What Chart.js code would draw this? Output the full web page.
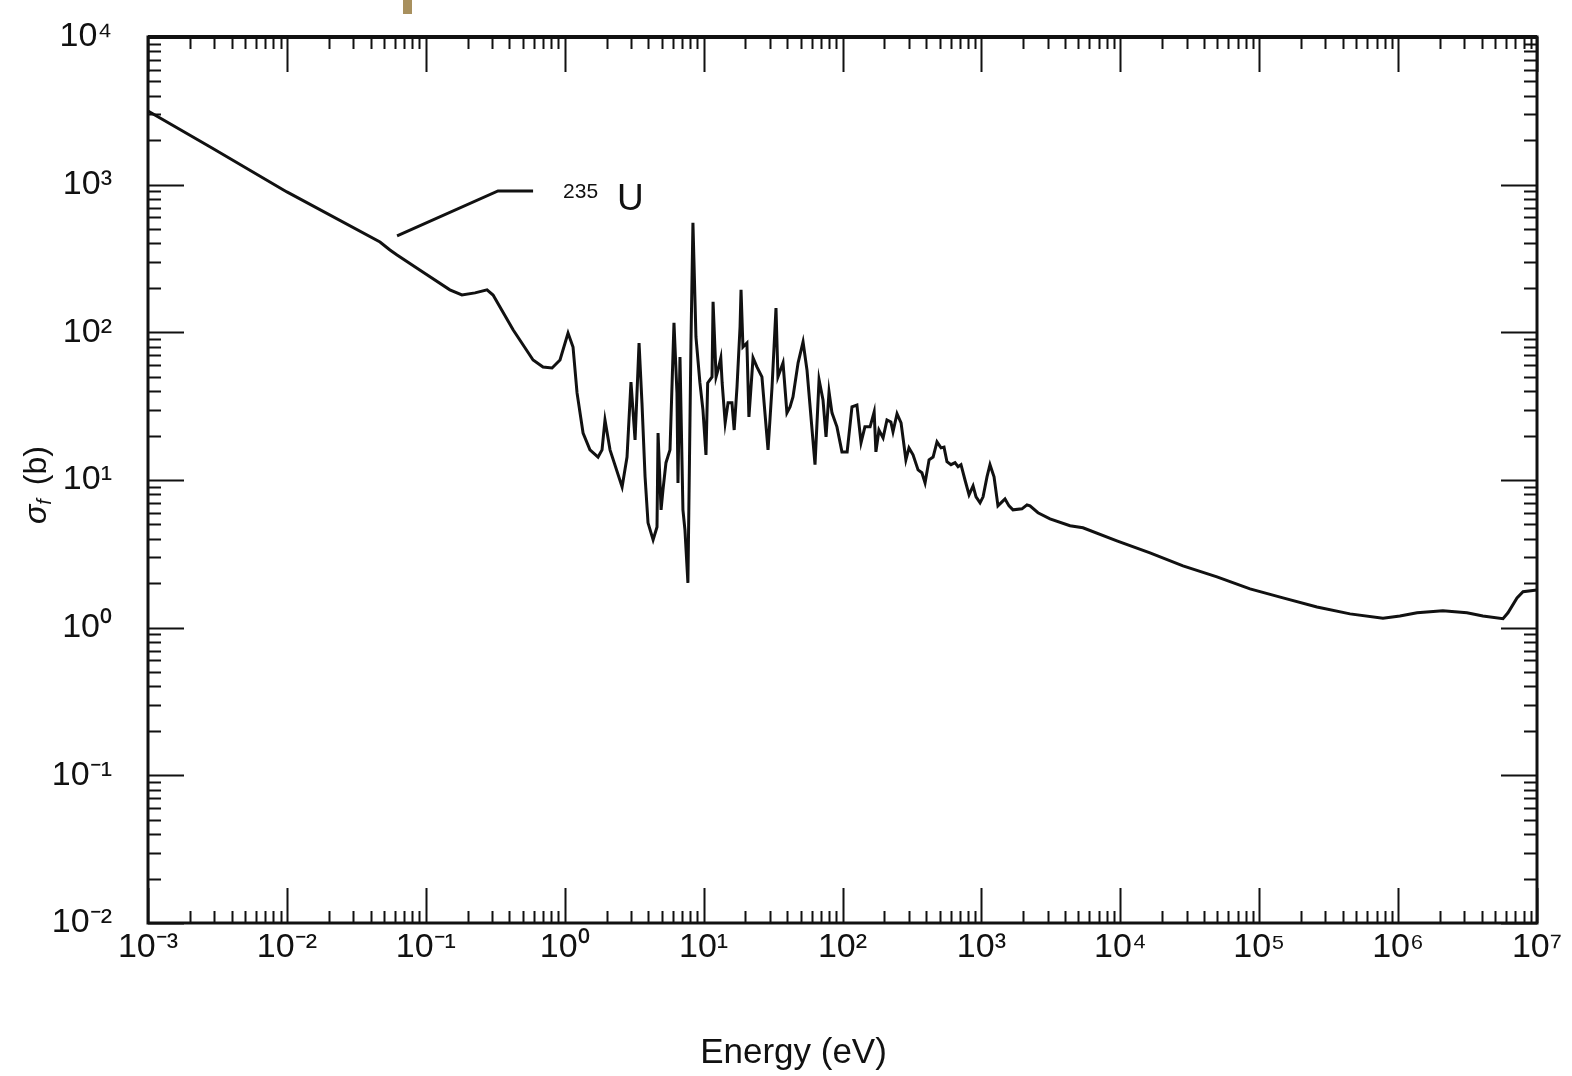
<!DOCTYPE html>
<html>
<head>
<meta charset="utf-8">
<script src="https://cdn.jsdelivr.net/npm/chart.js@4.4.1/dist/chart.umd.min.js"></script>
<style>
  html, body { margin: 0; padding: 0; background: #ffffff; }
  #wrap { position: relative; width: 1572px; height: 1076px; overflow: hidden; }
  #scanmark { position: absolute; left: 403px; top: 0; width: 9px; height: 14px; background: #a8905e; }
  canvas { position: absolute; left: 0; top: 0; }
</style>
</head>
<body>
<div id="wrap">
  <canvas id="c" width="1572" height="1076"></canvas>
  <div id="scanmark"></div>
</div>
<script>
// ---- data ----
const energyEv = [
  0.001, 0.00289, 0.01, 0.0468, 0.0552, 0.0621, 0.1, 0.149, 0.182, 0.226, 0.276, 0.305,
  0.425, 0.592, 0.698, 0.811, 0.925, 1.057, 1.148, 1.227, 1.356, 1.52, 1.738, 1.857, 1.95, 2.12,
  2.59, 2.81, 3.00, 3.21, 3.43, 3.60, 3.79, 3.98, 4.33, 4.62, 4.70, 4.94, 5.10, 5.36, 5.73,
  6.12, 6.43, 6.54, 6.76, 7.10, 7.34, 7.71, 8.11, 8.38, 8.81, 9.41, 9.89, 10.4, 10.7, 11.5,
  11.7, 12.3, 12.7, 13.3, 13.6, 14.3, 15.0, 16.0, 16.6, 17.4, 18.3, 18.6, 19.2, 20.5, 21.2,
  22.7, 24.2, 26.3, 29.1, 31.1, 33.2, 34.3, 37.3, 39.8, 41.9, 44.0, 47.9, 52.0, 55.5, 63.4,
  67.8, 72.4, 76.1, 80.0, 84.0, 91.2, 99.1, 108, 117, 127, 136, 145, 158, 169, 174, 183,
  196, 209, 223, 231, 247, 264, 286, 301, 322, 350, 373, 393, 420, 449, 479, 512, 538,
  565, 604, 646, 679, 713, 762, 815, 871, 915, 978, 1028, 1097, 1153, 1233, 1316, 1407,
  1479, 1581, 1688, 1959, 2128, 2238, 2555, 3118, 4345, 5385, 9450, 16360, 28270, 49660,
  85900, 148300, 260600, 450700, 778000, 1.03e6, 1.37e6, 2.10e6, 3.13e6, 4.08e6, 5.69e6,
  6.18e6, 7.18e6, 7.93e6, 1e7
];
const sigmaFission = [
  3150, 1773, 893, 409, 361, 334, 248, 194, 179, 185, 194, 179,
  104, 65, 58.3, 57.4, 65, 99, 79.6, 38.9, 20.8, 16.0, 14.3, 16.0, 25.5, 16.0,
  8.97, 14.3, 46.1, 18.7, 84.7, 33.3, 10.5, 5.13, 3.93, 4.81, 20.8, 6.28, 8.57, 13.1, 16.0,
  116, 38.9, 9.55, 68.1, 6.28, 4.59, 2.01, 84.7, 551, 93.1, 45.4, 29.9, 14.8, 45.4, 49.9,
  161, 49.9, 55.6, 67.1, 45.4, 24.4, 33.3, 33.3, 21.8, 42.7, 109, 194, 79.6, 84.7, 26.7,
  67.1, 58.3, 49.9, 16.0, 42.7, 146, 49.9, 62.1, 28.5, 31.3, 36.5, 62.1, 86.1, 55.6, 12.7,
  47.7, 34.8, 19.6, 39.5, 28.5, 22.9, 15.5, 15.5, 31.3, 32.2, 17.9, 22.9, 22.9, 28.9, 15.5, 21.8,
  19.3, 25.5, 24.7, 21.2, 28.1, 24.4, 13.7, 16.5, 14.8, 11.7, 11.2, 9.56, 13.7, 14.3, 18.1, 16.5, 16.7,
  13.3, 12.7, 13.1, 12.3, 12.7, 10.0, 7.94, 9.13, 7.69, 7.00, 7.69, 10.5, 12.7, 10.5, 6.68, 7.11,
  7.45, 6.68, 6.28, 6.38, 6.79, 6.68, 6.00, 5.46, 4.90, 4.75, 3.87, 3.21, 2.62, 2.21,
  1.83, 1.59, 1.38, 1.24, 1.16, 1.20, 1.26, 1.30, 1.26, 1.20, 1.15,
  1.26, 1.59, 1.75, 1.80
];
const xDecadeExponents = [-3, -2, -1, 0, 1, 2, 3, 4, 5, 6, 7];
const yDecadeExponents = [-2, -1, 0, 1, 2, 3, 4];
const minorMultipliers = [1, 2, 3, 4, 5, 6, 7, 8, 9];
const leaderEnergy = [0.0621, 0.331, 0.592];
const leaderSigma = [450, 906, 906];
const isotopeMass = '235';
const isotopeSymbol = 'U';
const xTitle = 'Energy (eV)';
const yTitleSymbol = 'σ';
const yTitleSub = 'f';
const yTitleUnit = '(b)';

// ---- helpers ----
const FONT = "'Liberation Sans', Arial, Helvetica, sans-serif";
const SUP = {'-': '\u207B', '0': '\u2070', '1': '\u00B9', '2': '\u00B2', '3': '\u00B3',
  '4': '\u2074', '5': '\u2075', '6': '\u2076', '7': '\u2077', '8': '\u2078', '9': '\u2079'};
const toSup = (n) => String(n).split('').map(c => SUP[c] || c).join('');
const isDecade = (v) => Math.abs(Math.log10(v) - Math.round(Math.log10(v))) < 1e-6;
const decadeLabel = (v) => isDecade(v) ? '10' + toSup(Math.round(Math.log10(v))) : '';
function tickValues(exps) {
  const vals = [];
  for (let i = 0; i < exps.length - 1; i++) {
    minorMultipliers.forEach(m => vals.push(m * Math.pow(10, exps[i])));
  }
  vals.push(Math.pow(10, exps[exps.length - 1]));
  return vals;
}

const curve = energyEv.map((e, i) => ({x: e, y: sigmaFission[i]}));
const leader = leaderEnergy.map((e, i) => ({x: e, y: leaderSigma[i]}));

const framePlugin = {
  id: 'frameTicks',
  afterDatasetsDraw(chart) {
    const {ctx, chartArea: ca, scales} = chart;
    const xs = scales.x, ys = scales.y;
    ctx.save();
    ctx.strokeStyle = '#111';
    ctx.lineCap = 'butt';
    ctx.lineWidth = 2;
    ctx.beginPath();
    xs.ticks.forEach(t => {
      const p = Math.round(xs.getPixelForValue(t.value)) + 0.5;
      const L = isDecade(t.value) ? 35 : 12;
      ctx.moveTo(p, ca.bottom); ctx.lineTo(p, ca.bottom - L);
      ctx.moveTo(p, ca.top); ctx.lineTo(p, ca.top + L);
    });
    ys.ticks.forEach(t => {
      const p = Math.round(ys.getPixelForValue(t.value)) + 0.5;
      const L = isDecade(t.value) ? 36 : 13;
      ctx.moveTo(ca.left, p); ctx.lineTo(ca.left + L, p);
      ctx.moveTo(ca.right, p); ctx.lineTo(ca.right - L, p);
    });
    ctx.stroke();
    ctx.lineWidth = 3;
    ctx.strokeRect(ca.left, ca.top, ca.right - ca.left, ca.bottom - ca.top);
    ctx.lineWidth = 4;
    ctx.beginPath(); ctx.moveTo(ca.left, ca.top); ctx.lineTo(ca.right, ca.top); ctx.stroke();

    // isotope label next to the leader line end
    const ex = xs.getPixelForValue(leaderEnergy[leaderEnergy.length - 1]);
    const ey = ys.getPixelForValue(leaderSigma[leaderSigma.length - 1]);
    ctx.fillStyle = '#111';
    ctx.textBaseline = 'alphabetic';
    ctx.textAlign = 'left';
    ctx.font = '21px ' + FONT;
    const mx = ex + 30;
    ctx.fillText(isotopeMass, mx, ey + 7);
    const mw = ctx.measureText(isotopeMass).width;
    ctx.font = '37px ' + FONT;
    ctx.fillText(isotopeSymbol, mx + mw + 19, ey + 19);

    // x axis title (sits left of the plot centre, as in the reference)
    ctx.font = '35px ' + FONT;
    ctx.textAlign = 'center';
    ctx.textBaseline = 'middle';
    ctx.fillText(xTitle, (ca.left + ca.right) / 2 - 49, 1053);

    // y axis title (rotated), with subscript
    ctx.save();
    ctx.translate(35, 485);
    ctx.rotate(-Math.PI / 2);
    ctx.textAlign = 'left';
    ctx.font = 'italic 32px ' + FONT;
    const w1 = ctx.measureText(yTitleSymbol).width;
    ctx.font = 'italic 20px ' + FONT;
    const w2 = ctx.measureText(yTitleSub).width;
    ctx.font = '32px ' + FONT;
    const w3 = ctx.measureText(yTitleUnit).width;
    const gap = 14;
    let cx = -(w1 + w2 + gap + w3) / 2;
    ctx.textBaseline = 'alphabetic';
    ctx.font = 'italic 32px ' + FONT;
    ctx.fillText(yTitleSymbol, cx, 11); cx += w1;
    ctx.font = 'italic 20px ' + FONT;
    ctx.fillText(yTitleSub, cx, 16); cx += w2 + gap;
    ctx.font = '32px ' + FONT;
    ctx.fillText(yTitleUnit, cx, 11);
    ctx.restore();

    ctx.restore();
  }
};

new Chart(document.getElementById('c'), {
  type: 'line',
  data: {
    datasets: [
      { data: curve, borderColor: '#111', borderWidth: 3, pointRadius: 0, tension: 0, fill: false },
      { data: leader, borderColor: '#111', borderWidth: 3, pointRadius: 0, tension: 0, fill: false }
    ]
  },
  options: {
    responsive: false,
    animation: false,
    devicePixelRatio: 1,
    layout: { padding: { top: 37, right: 35, left: 0, bottom: 0 } },
    plugins: { legend: { display: false }, tooltip: { enabled: false } },
    scales: {
      x: {
        type: 'logarithmic',
        position: 'bottom',
        min: Math.pow(10, xDecadeExponents[0]),
        max: Math.pow(10, xDecadeExponents[xDecadeExponents.length - 1]),
        afterBuildTicks: (s) => { s.ticks = tickValues(xDecadeExponents).map(v => ({value: v})); },
        afterFit: (s) => { s.height = 153; s.paddingLeft = 0; s.paddingRight = 0; },
        grid: { display: false, drawTicks: false },
        border: { display: false },
        ticks: {
          autoSkip: false, maxRotation: 0, minRotation: 0, padding: 4,
          color: '#111', font: { family: FONT, size: 34 },
          callback: (v) => decadeLabel(v)
        },
        title: { display: false, text: xTitle }
      },
      y: {
        type: 'logarithmic',
        position: 'left',
        min: Math.pow(10, yDecadeExponents[0]),
        max: Math.pow(10, yDecadeExponents[yDecadeExponents.length - 1]),
        afterBuildTicks: (s) => { s.ticks = tickValues(yDecadeExponents).map(v => ({value: v})); },
        afterFit: (s) => { s.width = 148; s.paddingTop = 0; s.paddingBottom = 0; },
        grid: { display: false, drawTicks: false },
        border: { display: false },
        ticks: {
          autoSkip: false, padding: 36,
          color: '#111', font: { family: FONT, size: 34 },
          callback: (v) => decadeLabel(v)
        }
      }
    }
  },
  plugins: [framePlugin]
});
</script>
</body>
</html>
